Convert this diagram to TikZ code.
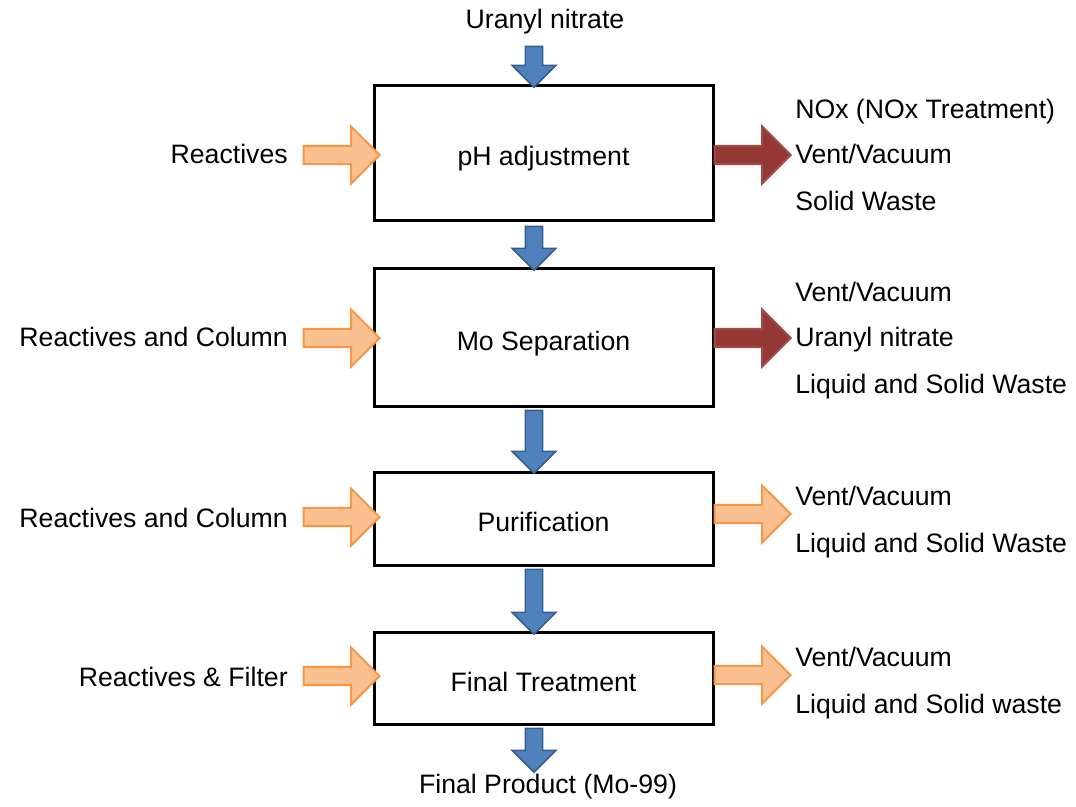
\documentclass[tikz,border=0pt]{standalone}
\usepackage{fontspec}
\setmainfont{Liberation Sans}
\usetikzlibrary{shapes.arrows}
\definecolor{feedfill}{HTML}{FAC08F}
\definecolor{feedline}{HTML}{F79646}
\definecolor{wastefill}{HTML}{953735}
\definecolor{wasteline}{HTML}{A04A48}
\definecolor{flowfill}{HTML}{4F81BD}
\definecolor{flowline}{HTML}{385D8A}
\begin{document}
\begin{tikzpicture}[x=0.75pt, y=-0.75pt,
		every node/.style={font=\fontsize{20}{24}\selectfont, inner sep=0pt,
			text height=1.5ex, text depth=.3ex},
		stage/.style={draw, line width=2.25pt, minimum width=254.25pt,
			text height=20pt, text depth=0pt},
		sidearrow/.style={single arrow, single arrow head extend=11.6pt,
			minimum width=42.75pt, minimum height=57pt, line width=1.5pt},
		feed/.style={sidearrow, draw=feedline, fill=feedfill},
		waste/.style={sidearrow, draw=wasteline, fill=wastefill},
		flow/.style={single arrow, single arrow head extend=8.25pt,
			minimum width=33pt, rotate=-90, draw=flowline, fill=flowfill,
			line width=1.2pt}]
	\useasboundingbox (0,0) rectangle (1076,807);
	% process steps
	\node[stage, minimum height=101.25pt] (ph) at (543.5,152.5) {pH adjustment};
	\node[stage, minimum height=103.5pt] (mo) at (543.5,337) {Mo Separation};
	\node[stage, minimum height=69.75pt] (pur) at (543.5,518.5) {Purification};
	\node[stage, minimum height=69pt] (fin) at (543.5,678) {Final Treatment};
	% main stream
	\node[anchor=base] (feedin) at (545,28) {Uranyl nitrate};
	\node[anchor=base] (prod) at (548,793) {Final Product (Mo-99)};
	\node[flow, minimum height=30.75pt] (f0) at (534,62.5) {};
	\node[flow, minimum height=33pt] (f1) at (534,244) {};
	\node[flow, minimum height=47.25pt] (f2) at (534,437.5) {};
	\node[flow, minimum height=48.75pt] (f3) at (534,597.5) {};
	\node[flow, minimum height=33pt] (f4) at (534,746) {};
	% inputs
	\node[anchor=base east] (in1) at (288,163) {Reactives};
	\node[anchor=base east] (in2) at (288,346.5) {Reactives and Column};
	\node[anchor=base east] (in3) at (288,527.5) {Reactives and Column};
	\node[anchor=base east] (in4) at (288,686.5) {Reactives \& Filter};
	\node[feed] (a1) at (337,155) {};
	\node[feed] (a2) at (337,338) {};
	\node[feed] (a3) at (337,517) {};
	\node[feed] (a4) at (337,676) {};
	% outputs
	\node[waste] (b1) at (748,155) {};
	\node[waste] (b2) at (748,338) {};
	\node[feed] (b3) at (748,514) {};
	\node[feed] (b4) at (748,675) {};
	\node[anchor=base west] (o11) at (795,118.5) {NOx (NOx Treatment)};
	\node[anchor=base west] (o12) at (795,163.5) {Vent/Vacuum};
	\node[anchor=base west] (o13) at (795,210.5) {Solid Waste};
	\node[anchor=base west] (o21) at (795,301.5) {Vent/Vacuum};
	\node[anchor=base west] (o22) at (795,346.5) {Uranyl nitrate};
	\node[anchor=base west] (o23) at (795,393.5) {Liquid and Solid Waste};
	\node[anchor=base west] (o31) at (795,505.5) {Vent/Vacuum};
	\node[anchor=base west] (o32) at (795,552.5) {Liquid and Solid Waste};
	\node[anchor=base west] (o41) at (795,666.5) {Vent/Vacuum};
	\node[anchor=base west] (o42) at (795,713.5) {Liquid and Solid waste};
\end{tikzpicture}
\end{document}
